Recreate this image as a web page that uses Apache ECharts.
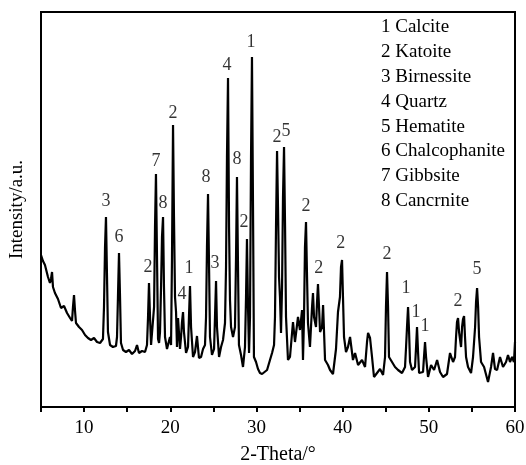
<!DOCTYPE html>
<html>
<head>
<meta charset="utf-8">
<script src="https://cdn.jsdelivr.net/npm/echarts@6/dist/echarts.min.js"></script>
<style>
  html, body { margin: 0; padding: 0; background: #fff; }
  #chart { width: 526px; height: 465px; }
</style>
</head>
<body>
<div id="chart"></div>
<script>
// 2-theta (degrees) and intensity (a.u.)
const twoTheta = [
  5.00, 5.23, 5.46, 5.81, 6.04, 6.16, 6.28, 6.39, 6.62, 6.97, 7.32, 7.67, 8.02, 8.37, 8.60, 8.71, 8.83, 8.95, 9.06, 9.41,
  9.76, 10.11, 10.45, 10.80, 11.15, 11.50, 11.85, 12.19, 12.31, 12.43, 12.54, 12.66, 12.77, 13.01, 13.35, 13.70, 13.82, 13.93, 14.05, 14.17,
  14.28, 14.52, 14.86, 15.21, 15.56, 15.91, 16.14, 16.37, 16.72, 17.07, 17.30, 17.42, 17.53, 17.65, 17.77, 18.00, 18.12, 18.23, 18.34, 18.46,
  18.58, 18.70, 18.81, 18.93, 19.04, 19.16, 19.27, 19.39, 19.62, 19.85, 19.97, 20.09, 20.20, 20.32, 20.43, 20.55, 20.67, 20.78, 20.90, 21.13,
  21.25, 21.36, 21.48, 21.59, 21.83, 22.06, 22.17, 22.29, 22.41, 22.64, 22.87, 23.10, 23.33, 23.57, 23.80, 24.03, 24.15, 24.26, 24.38, 24.50,
  24.61, 24.84, 25.08, 25.19, 25.31, 25.42, 25.66, 25.89, 26.12, 26.35, 26.47, 26.58, 26.70, 26.82, 26.93, 27.05, 27.28, 27.51, 27.63, 27.74,
  27.86, 27.97, 28.21, 28.44, 28.67, 28.79, 28.90, 29.02, 29.14, 29.25, 29.37, 29.48, 29.60, 29.71, 29.95, 30.18, 30.41, 30.65, 30.88, 31.23,
  31.57, 31.81, 32.04, 32.15, 32.27, 32.39, 32.50, 32.62, 32.73, 32.85, 32.97, 33.08, 33.20, 33.32, 33.43, 33.66, 33.89, 34.24, 34.47, 34.82,
  35.05, 35.29, 35.40, 35.52, 35.63, 35.75, 35.87, 35.98, 36.21, 36.45, 36.56, 36.68, 36.91, 37.03, 37.14, 37.26, 37.38, 37.61, 37.73, 37.96,
  38.30, 38.54, 38.88, 39.23, 39.46, 39.69, 39.81, 39.93, 40.04, 40.16, 40.39, 40.62, 40.86, 41.20, 41.44, 41.79, 42.25, 42.60, 42.83, 42.95,
  43.18, 43.41, 43.64, 43.99, 44.34, 44.69, 44.92, 45.03, 45.15, 45.27, 45.38, 45.73, 46.08, 46.43, 46.89, 47.24, 47.36, 47.47, 47.59, 47.71,
  47.82, 48.05, 48.40, 48.52, 48.63, 48.75, 48.87, 49.10, 49.33, 49.44, 49.56, 49.68, 49.91, 50.26, 50.61, 50.96, 51.30, 51.65, 52.11, 52.46,
  52.81, 53.04, 53.16, 53.27, 53.39, 53.51, 53.74, 53.86, 53.97, 54.09, 54.20, 54.32, 54.55, 54.90, 55.13, 55.37, 55.48, 55.60, 55.72, 55.83,
  56.06, 56.41, 56.87, 57.22, 57.45, 57.68, 57.92, 58.26, 58.61, 58.96, 59.19, 59.42, 59.66, 59.88, 60.00
];
const intensity = [
  152, 146, 142, 130, 124, 128, 135, 120, 114, 108, 99, 101, 94, 89, 86, 100, 112, 96, 84, 80,
  77, 72, 69, 67, 69, 65, 64, 68, 100, 160, 190, 130, 75, 62, 60, 61, 70, 110, 154, 110,
  64, 57, 55, 57, 53, 56, 62, 54, 56, 55, 62, 90, 124, 90, 62, 60, 100, 180, 233, 150,
  68, 64, 75, 120, 170, 190, 120, 70, 58, 66, 70, 62, 150, 282, 190, 110, 95, 60, 89, 58,
  70, 85, 95, 75, 54, 60, 90, 121, 80, 50, 55, 71, 49, 50, 58, 62, 90, 160, 213, 140,
  70, 52, 58, 90, 126, 80, 50, 60, 67, 84, 140, 250, 329, 180, 107, 80, 70, 80, 150, 230,
  140, 62, 52, 40, 60, 110, 168, 100, 54, 90, 250, 350, 200, 50, 45, 38, 34, 33, 35, 37,
  47, 54, 62, 90, 180, 256, 200, 130, 110, 74, 120, 210, 260, 180, 90, 47, 50, 85, 65, 90,
  77, 97, 47, 90, 160, 185, 130, 84, 60, 100, 114, 90, 80, 105, 123, 100, 75, 80, 102, 47,
  42, 37, 33, 58, 95, 110, 140, 147, 110, 70, 55, 60, 70, 47, 54, 42, 47, 40, 65, 74,
  69, 50, 30, 34, 38, 32, 50, 100, 135, 100, 50, 45, 40, 37, 34, 40, 60, 80, 100, 75,
  45, 37, 40, 60, 80, 55, 34, 32, 35, 50, 65, 50, 30, 42, 37, 47, 35, 30, 33, 54,
  45, 50, 70, 85, 89, 75, 60, 80, 88, 91, 70, 50, 40, 34, 50, 80, 105, 119, 100, 70,
  45, 40, 25, 40, 54, 38, 37, 50, 40, 45, 52, 45, 50, 45, 65
];

// phase numbers written over the peaks, with their anchor in data units
const peakLabels = ["3", "6", "2", "7", "8", "2", "4", "1", "8", "3", "4", "8", "2", "1", "2", "5", "2", "2", "2", "2", "1", "1", "1", "2", "5"];
const labelX = [12.54, 14.05, 17.42, 18.34, 19.16, 20.32, 21.36, 22.17, 24.15, 25.19, 26.58, 27.74, 28.56, 29.37, 32.39, 33.43, 35.75, 37.22, 39.78, 45.15, 47.36, 48.52, 49.56, 53.39, 55.60];
const labelY = [206, 170, 140, 246, 204, 294, 113, 139, 230, 144, 342, 248, 185, 365, 270, 276, 201, 139, 164, 153, 119, 95, 81, 106, 138];

const legendLines = [
  "1 Calcite",
  "2 Katoite",
  "3 Birnessite",
  "4 Quartz",
  "5 Hematite",
  "6 Chalcophanite",
  "7 Gibbsite",
  "8 Cancrnite",
];

const xTicks = [10, 20, 30, 40, 50, 60];

const font = "Liberation Serif";

const lineData = twoTheta.map((x, i) => [x, intensity[i]]);
const labelData = peakLabels.map((t, i) => [labelX[i], labelY[i], t]);

const chart = echarts.init(document.getElementById("chart"));

const option = {
  animation: false,
  backgroundColor: "#fff",
  grid: {
    left: 41,
    right: 11,
    top: 12,
    bottom: 58,
    containLabel: false,
    outerBoundsMode: "none",
    show: true,
    borderColor: "#000",
    borderWidth: 2,
  },
  xAxis: {
    type: "value",
    min: 5,
    max: 60,
    interval: 5,
    name: "2-Theta/°",
    nameLocation: "middle",
    nameGap: 38,
    nameTextStyle: { fontFamily: font, fontSize: 20, color: "#000" },
    axisLine: { lineStyle: { color: "#000", width: 2 } },
    axisTick: { inside: false, length: 5, lineStyle: { color: "#000", width: 2 } },
    axisLabel: {
      margin: 12,
      fontFamily: font,
      fontSize: 19,
      color: "#000",
      formatter: (v) => (xTicks.indexOf(v) >= 0 ? String(v) : ""),
    },
    splitLine: { show: false },
  },
  yAxis: {
    type: "value",
    min: 0,
    max: 395,
    name: "Intensity/a.u.",
    nameLocation: "middle",
    nameGap: 14,
    nameTextStyle: { fontFamily: font, fontSize: 19, color: "#000" },
    axisLine: { show: true, lineStyle: { color: "#000", width: 2 } },
    axisTick: { show: false },
    axisLabel: { show: false },
    splitLine: { show: false },
  },
  graphic: [
    {
      type: "text",
      left: 381,
      top: 15,
      style: {
        text: legendLines.join("\n"),
        font: '19px "Liberation Serif"',
        lineHeight: 24.8,
        fill: "#000",
      },
    },
  ],
  series: [
    {
      type: "line",
      data: lineData,
      showSymbol: false,
      symbol: "none",
      lineStyle: { color: "#000", width: 2.2 },
      silent: true,
    },
    {
      type: "scatter",
      data: labelData,
      symbolSize: 0,
      silent: true,
      label: {
        show: true,
        position: "inside",
        formatter: (p) => p.value[2],
        fontFamily: font,
        fontSize: 18,
        color: "#000",
        textBorderWidth: 0,
      },
    },
  ],
};

chart.setOption(option);
</script>
</body>
</html>
